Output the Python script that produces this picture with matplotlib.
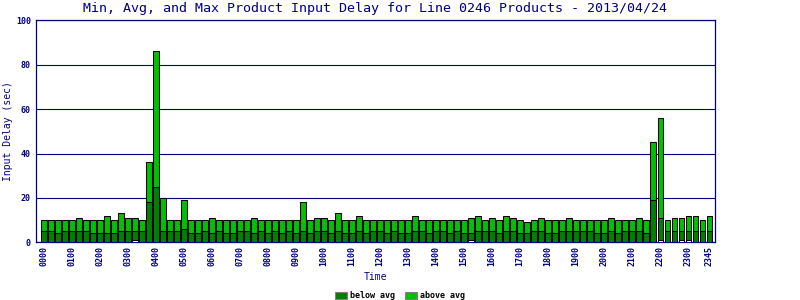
import matplotlib
matplotlib.use("Agg")
import matplotlib.pyplot as plt
from matplotlib.patches import Patch

# 15-minute slots over the day
times = [f"{h:02d}{m:02d}" for h in range(24) for m in (0, 15, 30, 45)]

max_delay = [10, 10, 10, 10, 10, 11, 10, 10, 10, 12, 10, 13, 11, 11, 10, 36,
             86, 20, 10, 10, 19, 10, 10, 10, 11, 10, 10, 10, 10, 10, 11, 10,
             10, 10, 10, 10, 10, 18, 10, 11, 11, 10, 13, 10, 10, 12, 10, 10,
             10, 10, 10, 10, 10, 12, 10, 10, 10, 10, 10, 10, 10, 11, 12, 10,
             11, 10, 12, 11, 10, 9, 10, 11, 10, 10, 10, 11, 10, 10, 10, 10,
             10, 11, 10, 10, 10, 11, 10, 45, 56, 10, 11, 11, 12, 12, 10, 12]

avg_delay = [5, 5, 4, 5, 5, 5, 5, 4, 4, 4, 4, 5, 5, 5, 5, 18,
             25, 5, 5, 5, 6, 4, 4, 5, 4, 5, 4, 4, 5, 5, 4, 5,
             4, 5, 4, 5, 4, 5, 4, 5, 5, 4, 5, 4, 4, 5, 4, 5,
             5, 4, 5, 4, 4, 5, 5, 4, 5, 5, 4, 5, 4, 4, 5, 5,
             5, 4, 5, 5, 4, 4, 5, 5, 4, 4, 5, 5, 5, 5, 5, 4,
             4, 5, 4, 5, 5, 5, 4, 19, 11, 5, 5, 5, 5, 5, 5, 5]

min_delay = [0] * 96
for i in (13, 61, 88, 91, 92):
    min_delay[i] = 1

tick_labels = ["0000", "0100", "0200", "0300", "0400", "0500", "0600", "0700",
               "0800", "0900", "1000", "1100", "1200", "1300", "1400", "1500",
               "1600", "1700", "1800", "1900", "2000", "2100", "2200", "2300",
               "2345"]

navy = "#000080"
dark = "#008000"
bright = "#00c000"
mono = "DejaVu Sans Mono"

fig = plt.figure(figsize=(8, 3), dpi=100)
ax = fig.add_axes([0.0456, 0.1923, 0.894 - 0.0456, 0.9323 - 0.1923])

x = list(range(len(times)))
below = [a - m for a, m in zip(avg_delay, min_delay)]
above = [mx - a for mx, a in zip(max_delay, avg_delay)]
w = 0.76
ax.bar(x, min_delay, width=w, color="white", edgecolor="black", linewidth=0.75, zorder=3)
ax.bar(x, below, bottom=min_delay, width=w, color=dark, edgecolor="black", linewidth=0.75, zorder=3)
ax.bar(x, above, bottom=avg_delay, width=w, color=bright, edgecolor="black", linewidth=0.75, zorder=3)

ax.set_xlim(-1.07, 95.86)
ax.set_ylim(0, 100)
ax.set_yticks([0, 20, 40, 60, 80, 100])
ax.yaxis.grid(True, color=navy, linewidth=0.8, zorder=1)
ax.set_axisbelow(True)

tick_pos = [times.index(t) for t in tick_labels]
ax.set_xticks(tick_pos)
ax.set_xticklabels(tick_labels, rotation=90)
ax.tick_params(length=0, labelcolor=navy, labelsize=6)
ax.tick_params(axis="x", pad=3)
ax.tick_params(axis="y", pad=4)
for lab in ax.get_xticklabels() + ax.get_yticklabels():
    lab.set_family(mono)
    lab.set_weight("bold")

for s in ax.spines.values():
    s.set_color(navy)
    s.set_linewidth(0.9)

fig.text(375 / 800, 1 - 8.5 / 300,
         "Min, Avg, and Max Product Input Delay for Line 0246 Products - 2013/04/24",
         ha="center", va="center", color=navy, family=mono, fontsize=9.6)
fig.text(375 / 800, 1 - 277 / 300, "Time", ha="center", va="center",
         color=navy, family=mono, fontsize=7)
fig.text(8 / 800, 1 - 131 / 300, "Input Delay (sec)", ha="center", va="center",
         rotation=90, color=navy, family=mono, fontsize=7)

handles = [Patch(facecolor=dark, edgecolor="grey", linewidth=0.8, label="below avg"),
           Patch(facecolor=bright, edgecolor="grey", linewidth=0.8, label="above avg")]
fig.legend(handles=handles, loc="center", bbox_to_anchor=(0.5, 1 - 295.5 / 300), ncol=2,
           frameon=False, prop={"family": mono, "size": 6, "weight": "bold"},
           handlelength=1.5, handleheight=0.9, handletextpad=0.4, columnspacing=1.1,
           borderpad=0, borderaxespad=0)

fig.savefig("out.png", dpi=100)
